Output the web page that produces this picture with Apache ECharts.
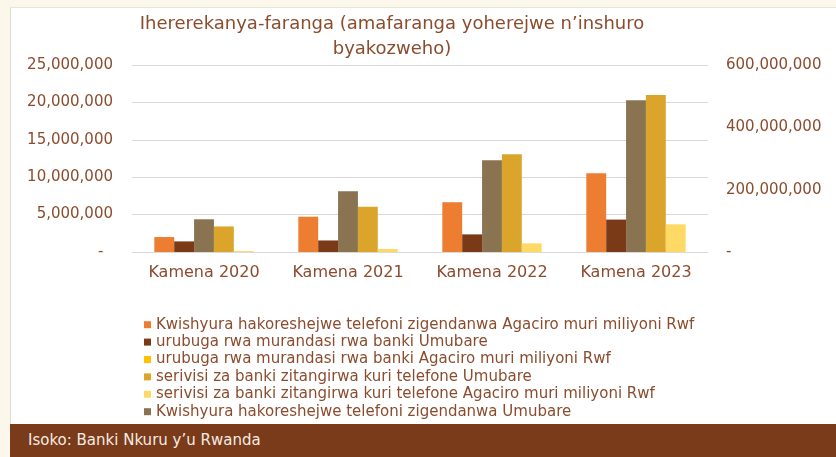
<!DOCTYPE html>
<html>
<head>
<meta charset="utf-8">
<script src="https://cdn.jsdelivr.net/npm/echarts@6/dist/echarts.min.js"></script>
<style>
  html, body { margin: 0; padding: 0; background: #fbf8eb; }
  #panel { position: absolute; left: 10px; top: 7px; width: 826px; height: 417px; background: #fff;
           border-left: 1px solid #e2dfd4; border-top: 1px solid #e8e4d6; box-sizing: border-box; }
  #footer { position: absolute; left: 10px; top: 424px; width: 826px; height: 33px; background: #7a3b1a;
            color: #f6ebe2; font-family: "DejaVu Sans", sans-serif; font-size: 15px; line-height: 33px;
            padding-left: 18px; box-sizing: border-box; }
  #chart { position: absolute; left: 0; top: 0; width: 836px; height: 424px; }
</style>
</head>
<body>
<div id="panel"></div>
<div id="chart"></div>
<div id="footer">Isoko: Banki Nkuru y’u Rwanda</div>
<script>
const categories = ['Kamena 2020', 'Kamena 2021', 'Kamena 2022', 'Kamena 2023']

// Agaciro muri miliyoni Rwf (left axis)
const kwishyuraAgaciro = [2000000, 4720000, 6640000, 10520000]
const urubugaAgaciro = [null, null, null, null]
const serivisiAgaciro = [130000, 400000, 1160000, 3700000]

// Umubare (right axis)
const urubugaUmubare = [34000000, 37000000, 56500000, 104000000]
const kwishyuraUmubare = [105000000, 195000000, 294000000, 487000000]
const serivisiUmubare = [82000000, 145000000, 314000000, 504000000]

const names = [
  'Kwishyura hakoreshejwe telefoni zigendanwa Agaciro muri miliyoni Rwf',
  'urubuga rwa murandasi rwa banki Umubare',
  'urubuga rwa murandasi rwa banki Agaciro muri miliyoni Rwf',
  'serivisi za banki zitangirwa kuri telefone Umubare',
  'serivisi za banki zitangirwa kuri telefone Agaciro muri miliyoni Rwf',
  'Kwishyura hakoreshejwe telefoni zigendanwa Umubare',
]

const textColor = '#8b4c2e'
const font = 'DejaVu Sans'

function fmt(v) {
  if (v === 0) return '-  '
  return v.toLocaleString('en-US')
}

const chart = echarts.init(document.getElementById('chart'))

function bar(name, data, color, yIdx, xIdx) {
  return {
    name, type: 'bar', data,
    xAxisIndex: xIdx || 0, yAxisIndex: yIdx,
    barGap: '0%', barCategoryGap: '31%',
    itemStyle: { color },
  }
}

chart.setOption({
  animation: false,
  textStyle: { fontFamily: font },
  title: {
    text: 'Ihererekanya-faranga (amafaranga yoherejwe n’inshuro\nbyakozweho)',
    left: 387, top: 7, textAlign: 'center',
    textStyle: { fontFamily: font, fontSize: 18, fontWeight: 'normal', color: textColor, lineHeight: 25 },
  },
  grid: { left: 132, right: 128, top: 65, bottom: 172 },
  legend: {
    orient: 'vertical', left: 139, top: 312, height: 110,
    itemWidth: 7, itemHeight: 7, itemGap: 2,
    icon: 'rect',
    data: names,
    textStyle: { fontFamily: font, fontSize: 15, color: textColor, lineHeight: 15.4 },
  },
  xAxis: [
    {
      type: 'category', data: categories,
      axisLine: { lineStyle: { color: '#d9d9d9', width: 1 } },
      axisTick: { show: false },
      axisLabel: { fontFamily: font, fontSize: 16, color: textColor, margin: 13, interval: 0 },
    },
    { type: 'category', data: categories, show: false },
  ],
  yAxis: [
    {
      type: 'value', min: 0, max: 25000000, interval: 5000000,
      axisLine: { show: false }, axisTick: { show: false },
      splitLine: { lineStyle: { color: '#d9d9d9', width: 1 } },
      axisLabel: { fontFamily: font, fontSize: 15, color: textColor, margin: 19, formatter: fmt },
    },
    {
      type: 'value', min: 0, max: 600000000, interval: 200000000,
      axisLine: { show: false }, axisTick: { show: false },
      splitLine: { show: false },
      axisLabel: { fontFamily: font, fontSize: 15, color: textColor, margin: 18, formatter: fmt },
    },
  ],
  series: [
    bar(names[0], kwishyuraAgaciro, '#ed7d31', 0),
    bar(names[1], urubugaUmubare, '#7b3a17', 1),
    bar(names[5], kwishyuraUmubare, '#8a7350', 1),
    bar(names[3], serivisiUmubare, '#daa52a', 1),
    bar(names[4], serivisiAgaciro, '#ffd966', 0),
    bar(names[2], urubugaAgaciro, '#ffc000', 0, 1),
  ],
})
</script>
</body>
</html>
